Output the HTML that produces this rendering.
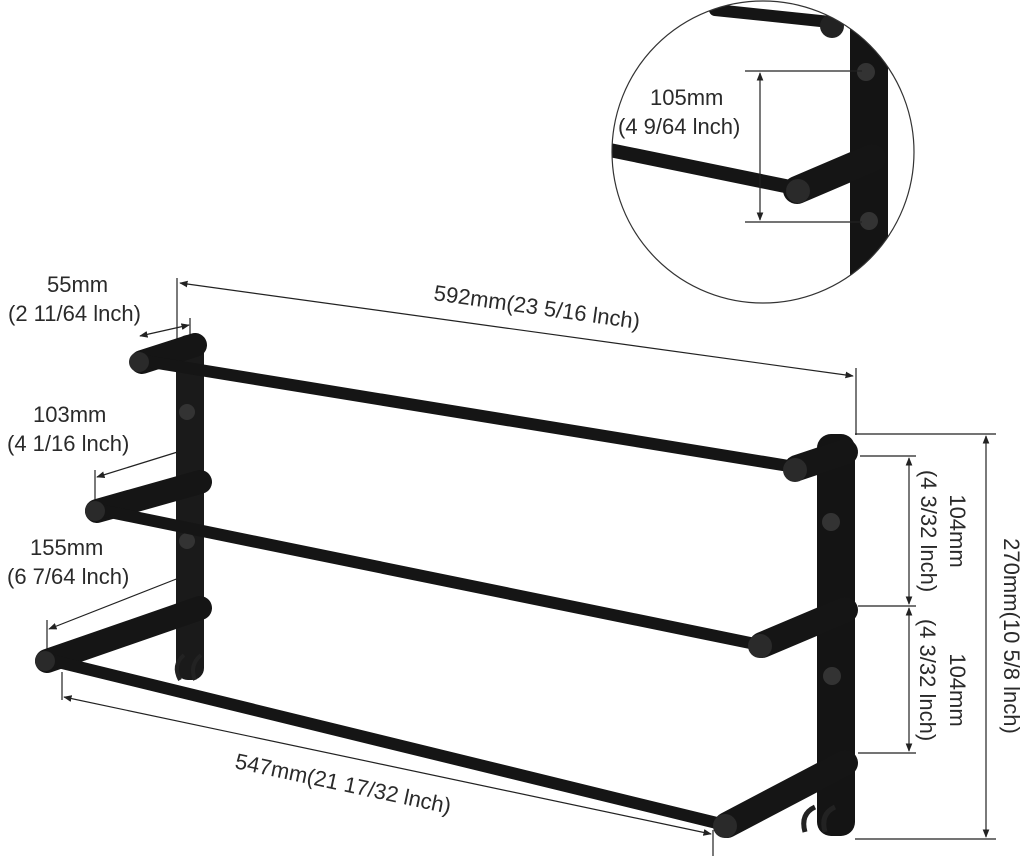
<!DOCTYPE html>
<html><head><style>
html,body{margin:0;padding:0;background:#fff;}
svg{display:block;}
text{font-family:"Liberation Sans",sans-serif;font-size:22px;fill:#2a2a2a;}
</style></head><body>
<svg width="1024" height="866" viewBox="0 0 1024 866">
<defs>
<marker id="a" viewBox="0 0 10 10" refX="9" refY="5" markerWidth="7" markerHeight="7" orient="auto-start-reverse"><path d="M0,1 L10,5 L0,9 z" fill="#222"/></marker>
<clipPath id="c"><circle cx="763" cy="152" r="151"/></clipPath>
</defs>
<g stroke="#222" stroke-width="1.2" fill="none">
<line x1="177" y1="278" x2="177" y2="345"/><line x1="856" y1="368" x2="856" y2="435"/>
<line x1="180" y1="283" x2="853" y2="376" marker-start="url(#a)" marker-end="url(#a)"/>
<line x1="190" y1="318" x2="190" y2="340"/>
<line x1="140" y1="336" x2="189" y2="325" marker-start="url(#a)" marker-end="url(#a)"/>
<line x1="95" y1="470" x2="95" y2="500"/><line x1="186" y1="445" x2="186" y2="470"/>
<line x1="97" y1="477" x2="184" y2="450" marker-start="url(#a)" marker-end="url(#a)"/>
<line x1="47" y1="620" x2="47" y2="650"/><line x1="186" y1="565" x2="186" y2="595"/>
<line x1="49" y1="629" x2="184" y2="576" marker-start="url(#a)" marker-end="url(#a)"/>
<line x1="62" y1="672" x2="62" y2="700"/><line x1="713" y1="830" x2="713" y2="856"/>
<line x1="64" y1="697" x2="711" y2="834" marker-start="url(#a)" marker-end="url(#a)"/>
<line x1="855" y1="434" x2="996" y2="434"/><line x1="855" y1="839" x2="996" y2="839"/>
<line x1="860" y1="456" x2="916" y2="456"/><line x1="858" y1="606" x2="916" y2="606"/><line x1="858" y1="753" x2="916" y2="753"/>
<line x1="909" y1="458" x2="909" y2="604" marker-start="url(#a)" marker-end="url(#a)"/>
<line x1="909" y1="608" x2="909" y2="751" marker-start="url(#a)" marker-end="url(#a)"/>
<line x1="986" y1="436" x2="986" y2="837" marker-start="url(#a)" marker-end="url(#a)"/>
</g>
<rect x="176" y="335" width="28" height="345" rx="12" fill="#1a1a1a"/>
<circle cx="187" cy="412" r="8" fill="#333"/><circle cx="187" cy="541" r="8" fill="#333"/>
<path d="M180,680 q-8,-15 4,-25 M195,680 q-6,-15 6,-25" stroke="#222" stroke-width="4" fill="none"/>
<rect x="817" y="434" width="38" height="402" rx="14" fill="#141414"/>
<circle cx="831" cy="522" r="9" fill="#333"/><circle cx="832" cy="676" r="9" fill="#333"/>
<path d="M805,832 q-5,-18 10,-25 M825,832 q-5,-18 10,-25" stroke="#222" stroke-width="5" fill="none"/>
<g stroke="#151515" stroke-linecap="round" fill="none">
<line x1="142" y1="362" x2="195" y2="345" stroke-width="24"/>
<line x1="97" y1="511" x2="200" y2="482" stroke-width="24"/>
<line x1="47" y1="661" x2="200" y2="608" stroke-width="24"/>
<line x1="797" y1="468" x2="845" y2="452" stroke-width="26"/>
<line x1="762" y1="645" x2="845" y2="610" stroke-width="26"/>
<line x1="727" y1="825" x2="845" y2="763" stroke-width="26"/>
<line x1="145" y1="361" x2="795" y2="467" stroke-width="12"/>
<line x1="100" y1="510" x2="760" y2="645" stroke-width="12"/>
<line x1="50" y1="660" x2="725" y2="825" stroke-width="12"/>
</g>
<g fill="#2a2a2a"><circle cx="139" cy="362" r="10"/><circle cx="95" cy="511" r="10"/><circle cx="45" cy="661" r="10"/>
<circle cx="795" cy="470" r="12"/><circle cx="760" cy="646" r="12"/><circle cx="725" cy="826" r="12"/></g>
<g clip-path="url(#c)">
<rect x="600" y="0" width="330" height="310" fill="#fff"/>
<rect x="850" y="20" width="38" height="260" fill="#141414"/>
<line x1="715" y1="10" x2="830" y2="22" stroke="#151515" stroke-width="12" stroke-linecap="round"/>
<circle cx="832" cy="26" r="12" fill="#222"/>
<circle cx="866" cy="72" r="9" fill="#333"/><circle cx="869" cy="221" r="9" fill="#333"/>
<line x1="797" y1="190" x2="872" y2="158" stroke="#151515" stroke-width="28" stroke-linecap="round"/>
<line x1="600" y1="148" x2="795" y2="188" stroke="#151515" stroke-width="14"/>
<circle cx="798" cy="191" r="12" fill="#2a2a2a"/>
<g stroke="#222" stroke-width="1.2"><line x1="745" y1="71" x2="862" y2="71"/><line x1="745" y1="222" x2="862" y2="222"/>
<line x1="760" y1="73" x2="760" y2="220" marker-start="url(#a)" marker-end="url(#a)"/></g>
</g>
<circle cx="763" cy="152" r="151" fill="none" stroke="#333" stroke-width="1.2"/>
<text x="650" y="105">105mm</text><text x="618" y="134">(4 9/64 lnch)</text>
<text x="47" y="292">55mm</text><text x="8" y="321">(2 11/64 lnch)</text>
<text x="33" y="422">103mm</text><text x="7" y="451">(4 1/16 lnch)</text>
<text x="30" y="555">155mm</text><text x="7" y="584">(6 7/64 lnch)</text>
<text transform="translate(433,300) rotate(8)">592mm(23 5/16 lnch)</text>
<text transform="translate(234,768) rotate(12)">547mm(21 17/32 lnch)</text>
<g text-anchor="middle">
<text transform="translate(950,531) rotate(90)">104mm</text>
<text transform="translate(921,531) rotate(90)">(4 3/32 lnch)</text>
<text transform="translate(920,680) rotate(90)">(4 3/32 lnch)</text>
<text transform="translate(950,690) rotate(90)">104mm</text>
<text transform="translate(1004,636) rotate(90)">270mm(10 5/8 lnch)</text>
</g>
</svg>
</body></html>
